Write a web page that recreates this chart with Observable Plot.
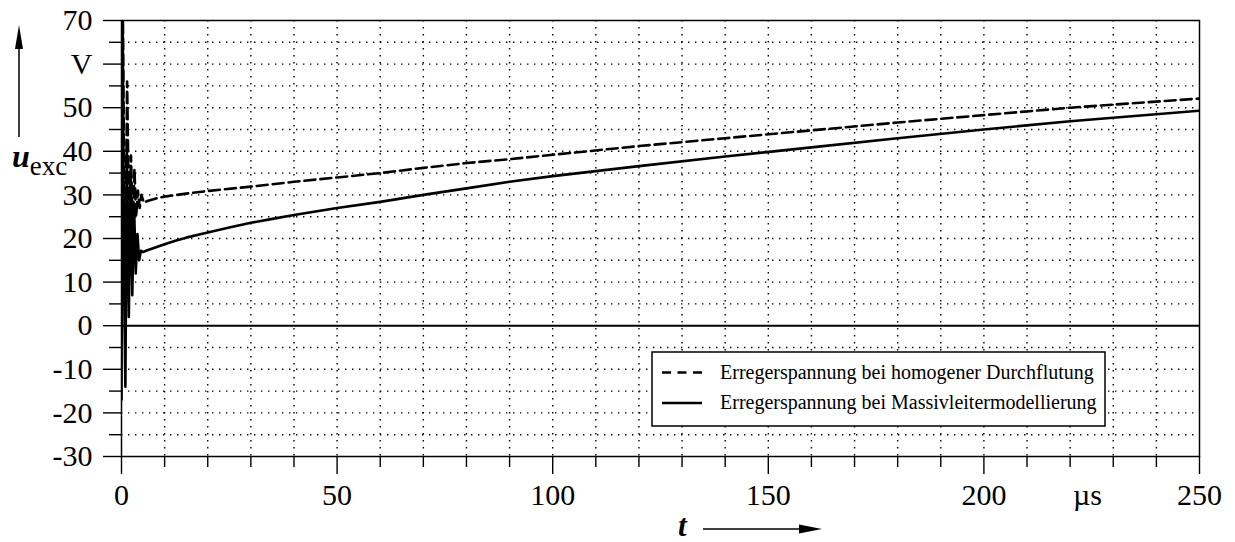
<!DOCTYPE html>
<html>
<head>
<meta charset="utf-8">
<script src="https://cdn.jsdelivr.net/npm/d3@7"></script>
<script src="https://cdn.jsdelivr.net/npm/@observablehq/plot@0.6"></script>
<style>
  html, body { margin: 0; padding: 0; background: #fff; }
  svg { display: block; }
</style>
</head>
<body>
<div id="chart"></div>
<script>
// Excitation voltage u_exc (V) over time t (µs)
// Homogeneous current density model (dashed)
const tHom = [0, 0.3, 0.7, 1.0, 1.3, 1.8, 2.2, 2.6, 3.0, 3.4, 3.8, 4.2, 4.6, 5.2, 6, 8, 10, 15, 20, 30, 40, 50, 60, 70, 80, 90, 100, 120, 140, 160, 180, 200, 220, 250];
const uHom = [5, 74, 22, 20, 56, 20, 39, 22, 36, 25, 31, 27, 30, 28.2, 28.6, 29.2, 29.6, 30.3, 30.9, 31.9, 33.0, 34.0, 35.0, 36.2, 37.3, 38.2, 39.2, 41.2, 43.0, 44.8, 46.6, 48.3, 50.0, 52.1];

// Solid conductor model (solid)
const tMass = [0, 0.25, 0.6, 0.9, 1.25, 1.7, 2.1, 2.5, 2.9, 3.3, 3.7, 4.1, 4.5, 5, 6, 8, 10, 12.5, 15, 20, 25, 30, 35, 40, 50, 60, 70, 80, 90, 100, 120, 140, 160, 180, 200, 220, 250];
const uMass = [-17, 74, 10, -14, 40, 2, 35, 7, 28, 12, 21, 15, 17.2, 16.9, 17.3, 18.0, 18.7, 19.5, 20.2, 21.4, 22.5, 23.6, 24.5, 25.4, 27.0, 28.4, 30.0, 31.5, 33.0, 34.3, 36.6, 38.8, 40.9, 43.0, 45.0, 46.9, 49.3];

// Axis ticks and labels
const yMajorTicks = [-30, -20, -10, 0, 10, 20, 30, 40, 50, 60, 70];
const yMajorLabels = ["-30", "-20", "-10", "0", "10", "20", "30", "40", "50", "V", "70"];
const yMinorTicks = [-25, -15, -5, 5, 15, 25, 35, 45, 55, 65];
const xMajorTicks = [0, 50, 100, 150, 200, 250];
const xMajorLabels = ["0", "50", "100", "150", "200", "250"];
const xMinorTicks = [10, 20, 30, 40, 60, 70, 80, 90, 110, 120, 130, 140, 160, 170, 180, 190, 210, 220, 230, 240];
const xUnitPos = [224];
const xUnitLabel = "µs";
const yGrid = [-25, -20, -15, -10, -5, 5, 10, 15, 20, 25, 30, 35, 40, 45, 50, 55, 60, 65];
const xGrid = [10, 20, 30, 40, 50, 60, 70, 80, 90, 100, 110, 120, 130, 140, 150, 160, 170, 180, 190, 200, 210, 220, 230, 240];

const legendLabels = [
  "Erregerspannung bei homogener Durchflutung",
  "Erregerspannung bei Massivleitermodellierung"
];

const homData = tHom.map((t, i) => ({t, u: uHom[i]}));
const massData = tMass.map((t, i) => ({t, u: uMass[i]}));

const W = 1235, H = 542;
const mL = 121, mR = 36, mT = 20, mB = 86;

const dotted = {stroke: "#000", strokeOpacity: 1, strokeWidth: 1.4, strokeDasharray: "1.4,5.6"};

const chart = Plot.plot({
  width: W,
  height: H,
  marginLeft: mL,
  marginRight: mR,
  marginTop: mT,
  marginBottom: mB,
  style: {fontFamily: "'Liberation Serif', 'Times New Roman', serif", background: "#fff", color: "#000"},
  x: {domain: [0, 250]},
  y: {domain: [-30, 70]},
  marks: [
    Plot.gridY(yGrid, dotted),
    Plot.gridX(xGrid, dotted),
    Plot.ruleY([0], {stroke: "#000", strokeWidth: 2}),
    Plot.line(massData, {x: "t", y: "u", stroke: "#000", strokeWidth: 2.6, clip: true}),
    Plot.line(homData, {x: "t", y: "u", stroke: "#000", strokeWidth: 2.6, strokeDasharray: "11,5", clip: true}),
    Plot.frame({stroke: "#000", strokeWidth: 1.5}),
    Plot.axisY(yMinorTicks, {tickSize: 12, strokeWidth: 1.4, text: null, label: null}),
    Plot.axisY(yMajorTicks, {tickSize: 18, tickPadding: 11, strokeWidth: 1.4, fontSize: 30, label: null,
      tickFormat: d => yMajorLabels[yMajorTicks.indexOf(d)]}),
    Plot.axisX(xMinorTicks, {tickSize: 11, strokeWidth: 1.4, text: null, label: null}),
    Plot.axisX(xMajorTicks, {tickSize: 18, tickPadding: 9, strokeWidth: 1.4, fontSize: 30, label: null,
      tickFormat: d => xMajorLabels[xMajorTicks.indexOf(d)]}),
    Plot.axisX(xUnitPos, {tickSize: 0, tickPadding: 27, fontSize: 30, label: null, tickFormat: () => xUnitLabel})
  ]
});

document.getElementById("chart").appendChild(chart);

// Axis titles with arrows, and the legend box
const svg = d3.select(chart);
const serif = "'Liberation Serif', 'Times New Roman', serif";
const frameRight = W - mR, frameBottom = H - mB;

// y axis: upward arrow and u_exc
const ya = svg.append("g");
ya.append("line").attr("x1", 19).attr("x2", 19).attr("y1", 137).attr("y2", 46)
  .attr("stroke", "#000").attr("stroke-width", 1.5);
ya.append("path").attr("d", "M19,25 L15,49 L23,49 Z").attr("fill", "#000");
const yt = ya.append("text").attr("x", 12).attr("y", 167).attr("text-anchor", "start")
  .attr("font-family", serif).attr("fill", "#000");
yt.append("tspan").attr("font-size", 32).attr("font-weight", "bold").attr("font-style", "italic").text("u");
yt.append("tspan").attr("font-size", 27).attr("dy", 8).text("exc");

// x axis: t and rightward arrow
const xa = svg.append("g");
xa.append("text").attr("x", 678).attr("y", 536).attr("text-anchor", "start")
  .attr("font-family", serif).attr("font-size", 31).attr("font-weight", "bold").attr("font-style", "italic")
  .attr("fill", "#000").text("t");
xa.append("line").attr("x1", 703).attr("x2", 802).attr("y1", 529).attr("y2", 529)
  .attr("stroke", "#000").attr("stroke-width", 1.5);
xa.append("path").attr("d", "M822,529 L799,524.5 L799,533.5 Z").attr("fill", "#000");

// legend
const lg = svg.append("g").attr("transform", `translate(${frameRight - 547},${frameBottom - 104})`);
lg.append("rect").attr("x", 0).attr("y", 0).attr("width", 453).attr("height", 74)
  .attr("fill", "#fff").attr("stroke", "#000").attr("stroke-width", 1.5);
lg.append("line").attr("x1", 10).attr("x2", 50).attr("y1", 20.5).attr("y2", 20.5)
  .attr("stroke", "#000").attr("stroke-width", 2.5).attr("stroke-dasharray", "9,6.5");
lg.append("line").attr("x1", 10).attr("x2", 50).attr("y1", 51).attr("y2", 51)
  .attr("stroke", "#000").attr("stroke-width", 2.5);
legendLabels.forEach((s, i) => {
  lg.append("text").attr("x", 68).attr("y", 26.5 + i * 30.5).attr("text-anchor", "start")
    .attr("font-family", serif).attr("font-size", 20).attr("fill", "#000").text(s);
});
</script>
</body>
</html>
